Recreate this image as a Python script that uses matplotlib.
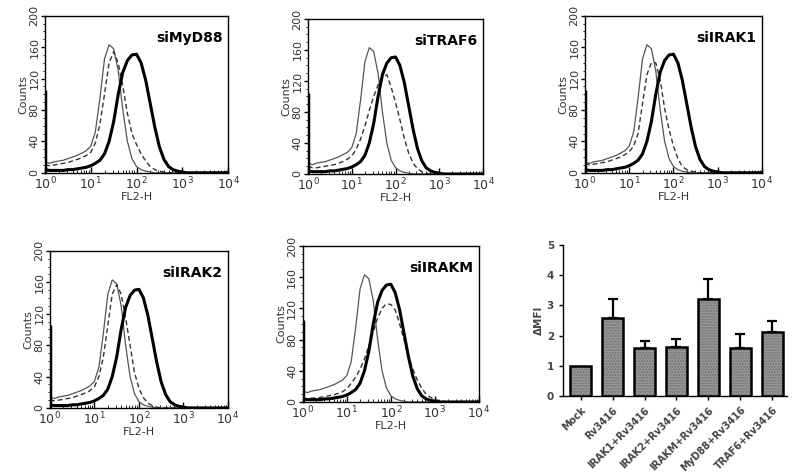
import numpy as np
import matplotlib
matplotlib.use("Agg")
import matplotlib.pyplot as plt
from matplotlib.ticker import LogLocator, NullFormatter, MultipleLocator

# log10(FL2-H) sample positions for every histogram
log_x = [0.0, 0.1, 0.2, 0.3, 0.4, 0.5, 0.6, 0.7, 0.8, 0.9,
         1.0, 1.1, 1.2, 1.3, 1.4, 1.5, 1.6, 1.7, 1.8, 1.9,
         2.0, 2.1, 2.2, 2.3, 2.4, 2.5, 2.6, 2.7, 2.8, 2.9,
         3.0, 3.1, 3.2, 3.3, 3.4, 3.5, 4.0]

# unstimulated control (thin line)
ctrl = [14, 12, 14, 15, 16, 18, 20, 22, 25, 28,
        34, 52, 95, 145, 163, 158, 130, 80, 40, 18,
        8, 4, 2, 1, 0, 0, 0, 0, 0, 0,
        0, 0, 0, 0, 0, 0, 0]

# Rv3416 (thick line)
rv3416 = [4, 3, 3, 3, 3, 4, 4, 5, 6, 7,
          9, 12, 16, 24, 40, 65, 100, 128, 143, 150,
          151, 140, 118, 88, 58, 33, 17, 8, 4, 2,
          1, 0, 0, 0, 0, 0, 0]
first_channel = 105  # pile-up at 10^0

# siRNA + Rv3416 (dashed line)
si_names = ["siMyD88", "siTRAF6", "siIRAK1", "siIRAK2", "siIRAKM"]
si_myd88 = [10, 9, 10, 11, 12, 13, 15, 17, 19, 22,
            26, 38, 62, 100, 140, 154, 140, 110, 76, 50,
            36, 24, 15, 8, 4, 2, 1, 0, 0, 0,
            0, 0, 0, 0, 0, 0, 0]
si_traf6 = [10, 8, 8, 9, 10, 11, 12, 14, 16, 19,
            23, 32, 45, 62, 82, 100, 115, 125, 128, 112,
            92, 70, 46, 27, 14, 7, 3, 1, 0, 0,
            0, 0, 0, 0, 0, 0, 0]
si_irak1 = [12, 10, 11, 12, 13, 14, 16, 18, 20, 23,
            27, 34, 50, 88, 125, 140, 140, 118, 82, 55,
            34, 18, 8, 4, 2, 1, 0, 0, 0, 0,
            0, 0, 0, 0, 0, 0, 0]
si_irak2 = [10, 9, 10, 11, 12, 13, 15, 17, 19, 22,
            27, 40, 65, 105, 145, 157, 145, 115, 80, 45,
            25, 13, 6, 3, 1, 0, 0, 0, 0, 0,
            0, 0, 0, 0, 0, 0, 0]
si_irakm = [5, 4, 5, 5, 6, 7, 8, 9, 11, 13,
            17, 24, 32, 42, 55, 72, 90, 108, 120, 126,
            125, 118, 100, 80, 58, 42, 28, 18, 10, 6,
            3, 2, 1, 0, 0, 0, 0]
si_curves = [si_myd88, si_traf6, si_irak1, si_irak2, si_irakm]

# bar chart
groups = ["Mock", "Rv3416", "IRAK1+Rv3416", "IRAK2+Rv3416", "IRAKM+Rv3416",
          "MyD88+Rv3416", "TRAF6+Rv3416"]
dmfi = [1.0, 2.6, 1.6, 1.62, 3.2, 1.6, 2.12]
dmfi_err = [0.0, 0.6, 0.21, 0.28, 0.67, 0.46, 0.36]

fig = plt.figure(figsize=(7.97, 4.76), dpi=100)

# [left, bottom, width, height] in figure fractions
hist_pos = [
    [0.0565, 0.637, 0.2296, 0.330],
    [0.3865, 0.6345, 0.2196, 0.3256],
    [0.734, 0.637, 0.222, 0.330],
    [0.0627, 0.143, 0.2233, 0.330],
    [0.380, 0.1555, 0.2208, 0.3277],
]

xs = 10 ** np.array(log_x)
for name, dashed, pos in zip(si_names, si_curves, hist_pos):
    ax = fig.add_axes(pos)
    ax.plot(xs, ctrl, color="#555555", lw=0.9)
    ax.plot(xs, dashed, color="#333333", lw=1.0, ls=(0, (3.5, 2.2)))
    ax.plot(xs, rv3416, color="black", lw=2.2)
    ax.vlines(1.0, 0, first_channel, color="black", lw=2.5)
    ax.set_xscale("log")
    ax.set_xlim(1, 1e4)
    ax.set_ylim(0, 200)
    ax.set_yticks([0, 40, 80, 120, 160, 200])
    ax.yaxis.set_minor_locator(MultipleLocator(10))
    ax.xaxis.set_major_locator(LogLocator(base=10, numticks=10))
    ax.xaxis.set_minor_locator(LogLocator(base=10, subs=np.arange(2, 10), numticks=10))
    ax.xaxis.set_minor_formatter(NullFormatter())
    ax.tick_params(axis="y", which="major", direction="out", length=3, width=1,
                   labelsize=8, labelrotation=90, labelcolor="#333333", pad=1)
    ax.tick_params(axis="y", which="minor", direction="out", length=1.5)
    ax.tick_params(axis="x", which="major", direction="in", length=4, width=1,
                   labelsize=9, labelcolor="#333333", pad=2)
    ax.tick_params(axis="x", which="minor", direction="in", length=2)
    for lab in ax.get_yticklabels():
        lab.set_va("center")
    for s in ax.spines.values():
        s.set_linewidth(1.0)
    ax.set_xlabel("FL2-H", fontsize=8, color="#333333", labelpad=0)
    ax.set_ylabel("Counts", fontsize=8, color="#333333", labelpad=1)
    ax.text(0.97, 0.86, name, transform=ax.transAxes, ha="right", va="center",
            fontsize=10, fontweight="bold")

# bar chart of delta MFI
bx = fig.add_axes([0.7064, 0.168, 0.2808, 0.317])
pos_x = np.arange(len(groups))
bx.bar(pos_x, dmfi, width=0.66, color="#9a9a9a", hatch="......",
       edgecolor="#6e6e6e", linewidth=0, zorder=2)
bx.bar(pos_x, dmfi, width=0.66, fill=False, edgecolor="black",
       linewidth=1.8, zorder=3)
has_err = [i for i, e in enumerate(dmfi_err) if e > 0]
bx.errorbar(pos_x[has_err], [dmfi[i] for i in has_err],
            yerr=[np.zeros(len(has_err)), [dmfi_err[i] for i in has_err]],
            fmt="none", ecolor="black", elinewidth=1.6, capsize=3.5,
            capthick=1.6, zorder=1)
bx.set_xlim(-0.55, 6.45)
bx.set_ylim(0, 5)
bx.set_yticks([0, 1, 2, 3, 4, 5])
bx.set_xticks(pos_x)
bx.set_xticklabels(groups, rotation=45, ha="right", rotation_mode="anchor",
                   fontsize=7, fontweight="bold", color="#444444")
bx.tick_params(axis="y", labelsize=7.5, width=1, length=3, labelcolor="#444444")
for lab in bx.get_yticklabels():
    lab.set_fontweight("bold")
bx.tick_params(axis="x", width=1, length=3)
bx.spines["top"].set_visible(False)
bx.spines["right"].set_visible(False)
bx.spines["left"].set_linewidth(1.0)
bx.spines["bottom"].set_linewidth(1.0)
bx.set_ylabel("ΔMFI", fontsize=7.5, fontweight="bold", color="#444444", labelpad=2)

fig.savefig("out.png", dpi=100)
